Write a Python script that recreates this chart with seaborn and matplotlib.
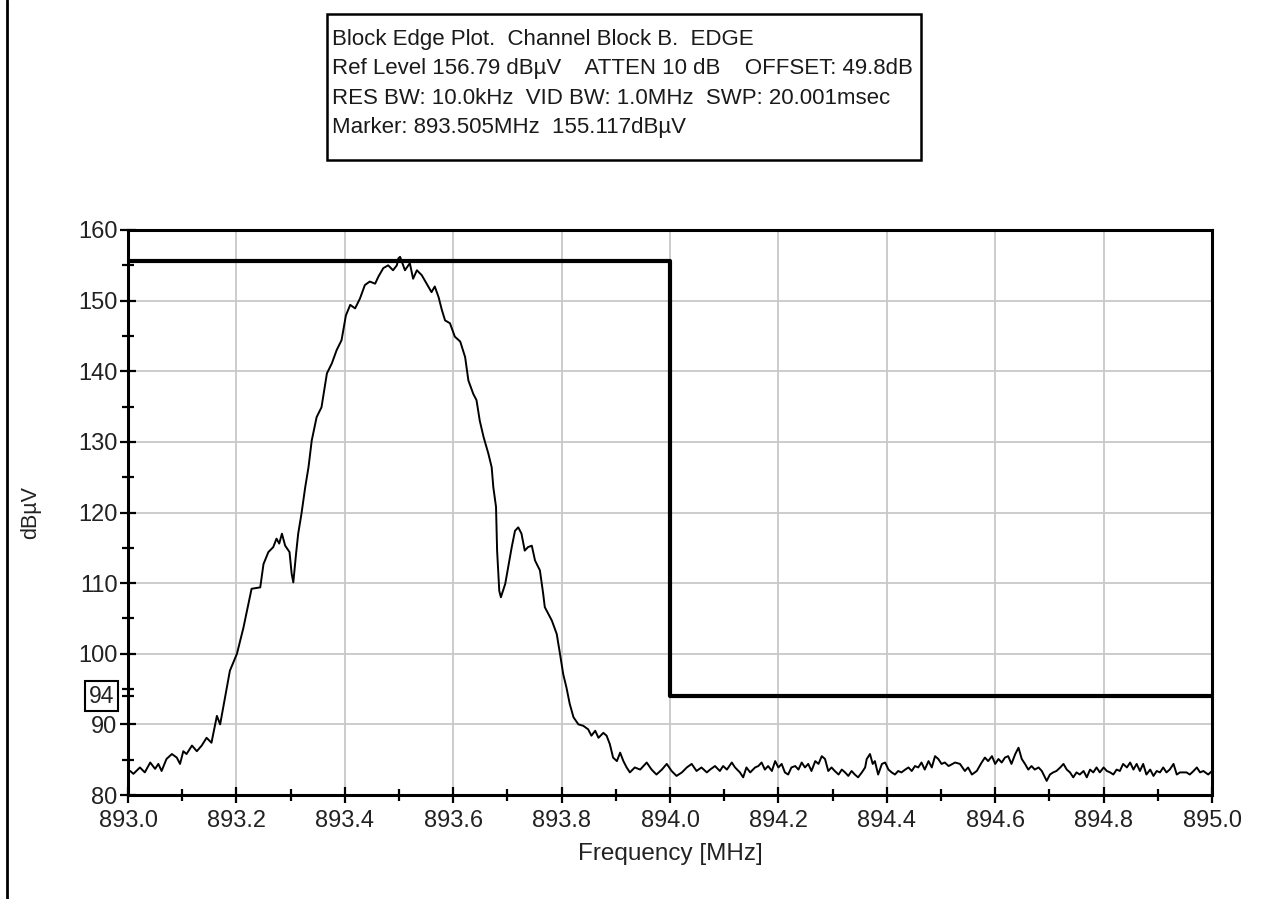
import matplotlib
matplotlib.use("Agg")
import matplotlib.pyplot as plt
import matplotlib.patches as mpatches
from matplotlib.ticker import FixedLocator, MultipleLocator
import numpy as np
import pandas as pd
import seaborn as sns

# ---- data ----
# left noise floor + lower skirt
freq_skirt = [893.004, 893.010, 893.022, 893.031, 893.041, 893.050, 893.056, 893.062,
              893.071, 893.081, 893.090, 893.096, 893.102, 893.108, 893.118, 893.127,
              893.136, 893.145, 893.154, 893.164, 893.170, 893.179, 893.188]
level_skirt = [83.4, 83.0, 83.9, 83.2, 84.6, 83.7, 84.4, 83.4,
               85.1, 85.8, 85.3, 84.4, 86.2, 85.8, 87.0, 86.2,
               87.0, 88.1, 87.4, 91.2, 90.0, 93.8, 97.6]

# main lobe (shoulders + carrier)
freq_lobe = [893.201, 893.213, 893.222, 893.228, 893.244, 893.250, 893.259, 893.268,
             893.274, 893.279, 893.284, 893.290, 893.298, 893.302, 893.305, 893.310,
             893.314, 893.320, 893.327, 893.333, 893.339, 893.348, 893.357, 893.367,
             893.376, 893.385, 893.394, 893.402, 893.410, 893.419, 893.428, 893.437,
             893.446, 893.456, 893.462, 893.471, 893.480, 893.489, 893.496, 893.499,
             893.502, 893.511, 893.520, 893.526, 893.533, 893.542, 893.551, 893.560,
             893.566, 893.573, 893.579, 893.585, 893.594, 893.603, 893.613, 893.622,
             893.628, 893.637, 893.643, 893.649, 893.656, 893.665, 893.671, 893.674,
             893.679, 893.681, 893.685, 893.688, 893.696, 893.702, 893.708, 893.714,
             893.720, 893.726, 893.732, 893.738, 893.745, 893.751, 893.760, 893.766,
             893.769, 893.782, 893.791, 893.797, 893.803, 893.809, 893.815, 893.822,
             893.831, 893.840, 893.849, 893.855, 893.862, 893.868, 893.877, 893.883,
             893.889, 893.895, 893.902, 893.908, 893.914, 893.920]
level_lobe = [100.0, 103.7, 107.0, 109.2, 109.4, 112.7, 114.4, 115.1,
              116.3, 115.6, 117.0, 115.3, 114.4, 111.3, 110.1, 114.1,
              117.0, 119.8, 123.6, 126.4, 130.2, 133.5, 134.9, 139.7,
              141.1, 143.0, 144.4, 147.9, 149.4, 148.9, 150.3, 152.2,
              152.7, 152.4, 153.4, 154.6, 155.0, 154.3, 155.0, 156.0,
              156.2, 154.3, 155.3, 153.1, 154.3, 153.6, 152.4, 151.2,
              152.0, 150.5, 148.7, 147.2, 146.8, 144.9, 144.2, 142.0,
              138.7, 136.8, 135.9, 133.0, 130.7, 128.3, 126.4, 123.6,
              120.8, 114.6, 108.9, 108.0, 109.9, 112.5, 115.1, 117.4,
              117.9, 117.0, 114.6, 115.1, 115.3, 113.2, 111.8, 108.5,
              106.6, 104.7, 102.8, 100.0, 97.1, 95.2, 92.9, 91.0,
              90.0, 89.8, 89.3, 88.4, 89.1, 88.1, 88.8, 88.4,
              87.2, 85.3, 84.8, 86.0, 84.8, 83.9]

# right noise floor
freq_floor = [893.926, 893.935, 893.945, 893.957, 893.966, 893.975, 893.985, 893.994,
              894.003, 894.012, 894.022, 894.031, 894.040, 894.049, 894.058, 894.068,
              894.074, 894.083, 894.092, 894.098, 894.105, 894.114, 894.120, 894.129,
              894.135, 894.141, 894.148, 894.157, 894.163, 894.169, 894.175, 894.181,
              894.188, 894.194, 894.200, 894.206, 894.212, 894.218, 894.224, 894.231,
              894.237, 894.243, 894.249, 894.255, 894.261, 894.268, 894.274, 894.280,
              894.286, 894.292, 894.298, 894.304, 894.311, 894.317, 894.323, 894.329,
              894.335, 894.341, 894.347, 894.354, 894.360, 894.363, 894.369, 894.374,
              894.378, 894.384, 894.391, 894.397, 894.403, 894.409, 894.415, 894.421,
              894.427, 894.434, 894.440, 894.446, 894.452, 894.458, 894.464, 894.470,
              894.477, 894.483, 894.489, 894.495, 894.501, 894.507, 894.514, 894.526,
              894.535, 894.544, 894.550, 894.557, 894.566, 894.575, 894.581, 894.587,
              894.594, 894.600, 894.606, 894.612, 894.618, 894.624, 894.630, 894.637,
              894.643, 894.649, 894.655, 894.661, 894.667, 894.673, 894.680, 894.686,
              894.695, 894.701, 894.707, 894.713, 894.720, 894.726, 894.732, 894.738,
              894.744, 894.750, 894.756, 894.763, 894.769, 894.775, 894.781, 894.787,
              894.793, 894.800, 894.806, 894.812, 894.818, 894.824, 894.830, 894.836,
              894.843, 894.849, 894.855, 894.861, 894.867, 894.873, 894.879, 894.886,
              894.892, 894.898, 894.904, 894.910, 894.916, 894.922, 894.929, 894.935,
              894.941, 894.947, 894.953, 894.959, 894.966, 894.972, 894.978, 894.984,
              894.993, 895.000]
level_floor = [83.2, 83.9, 83.6, 84.6, 83.6, 82.9, 83.6, 84.4,
               83.4, 82.7, 83.2, 83.9, 84.4, 83.4, 83.9, 83.2,
               83.6, 84.1, 83.4, 84.1, 83.6, 84.6, 83.9, 83.2,
               82.5, 83.9, 83.2, 83.9, 84.1, 84.6, 83.6, 84.1,
               83.4, 84.8, 83.9, 84.4, 83.2, 82.9, 83.9, 84.1,
               83.6, 84.6, 83.9, 84.4, 83.4, 84.8, 84.4, 85.5,
               85.1, 83.4, 83.9, 83.4, 82.9, 83.6, 83.2, 82.7,
               83.4, 82.9, 82.5, 83.2, 83.9, 85.1, 85.8, 84.4,
               84.8, 82.9, 84.4, 84.6, 83.6, 83.2, 82.9, 83.4,
               83.2, 83.6, 83.9, 83.4, 84.1, 83.9, 84.6, 83.6,
               84.8, 83.9, 85.5, 85.1, 84.4, 84.6, 84.1, 84.6,
               84.4, 83.4, 83.9, 82.9, 83.4, 84.6, 85.3, 84.8,
               85.5, 84.4, 85.1, 84.6, 85.3, 85.5, 84.4, 85.8,
               86.7, 85.1, 84.4, 83.6, 84.1, 83.6, 83.9, 83.4,
               82.0, 82.9, 83.2, 83.4, 83.9, 84.4, 83.6, 83.2,
               82.5, 83.2, 82.9, 83.4, 82.5, 83.6, 83.2, 83.9,
               83.2, 83.9, 83.4, 83.2, 82.9, 83.6, 83.4, 84.4,
               83.9, 84.6, 83.6, 84.4, 83.4, 84.4, 82.9, 83.6,
               82.7, 83.4, 83.2, 83.9, 83.2, 83.6, 84.4, 82.9,
               83.2, 83.2, 83.2, 82.9, 83.4, 83.9, 83.2, 83.4,
               82.9, 83.4]

# block edge limit mask
limit_freq = [893.0, 894.0, 894.0, 895.0]
limit_level = [155.6, 155.6, 94.0, 94.0]

header_lines = [
    "Block Edge Plot.  Channel Block B.  EDGE",
    "Ref Level 156.79 dB\u00b5V    ATTEN 10 dB    OFFSET: 49.8dB",
    "RES BW: 10.0kHz  VID BW: 1.0MHz  SWP: 20.001msec",
    "Marker: 893.505MHz  155.117dB\u00b5V",
]

trace = pd.DataFrame({
    "freq": freq_skirt + freq_lobe + freq_floor,
    "level": level_skirt + level_lobe + level_floor,
})
limit = pd.DataFrame({"freq": limit_freq, "level": limit_level})

sns.set_style("ticks")
plt.rcParams["font.family"] = ["Liberation Sans", "DejaVu Sans"]

fig = plt.figure(figsize=(12.68, 8.99), dpi=100)
ax = fig.add_axes([128 / 1268, 1 - 795 / 899, (1212 - 128) / 1268, (795 - 230) / 899])

sns.lineplot(data=trace, x="freq", y="level", ax=ax, color="black", linewidth=1.4,
             estimator=None, sort=False, zorder=3)
sns.lineplot(data=limit, x="freq", y="level", ax=ax, color="black", linewidth=3.0,
             estimator=None, sort=False, zorder=4)

ax.set_xlim(893.0, 895.0)
ax.set_ylim(80, 160)
ax.xaxis.set_major_locator(MultipleLocator(0.2))
ax.xaxis.set_minor_locator(MultipleLocator(0.1))
ax.yaxis.set_major_locator(MultipleLocator(10))
ax.yaxis.set_minor_locator(FixedLocator([85, 94, 95, 105, 115, 125, 135, 145, 155]))
ax.set_xticklabels([f"{v:.1f}" for v in ax.get_xticks()])

ax.grid(True, which="major", color="#c8c8c8", linewidth=1.3)
ax.tick_params(which="major", direction="inout", length=11, width=1.6, color="black",
               labelsize=17, labelcolor="#222222")
ax.tick_params(axis="x", which="major", pad=5)
ax.tick_params(axis="y", which="major", pad=2)
ax.tick_params(which="minor", direction="inout", length=8, width=1.6, color="black")
for s in ax.spines.values():
    s.set_visible(True)
    s.set_linewidth(2.2)
    s.set_color("black")

ax.set_xlabel("Frequency [MHz]", fontsize=17.5, color="#222222", labelpad=8)
ax.set_ylabel("dB\u00b5V", fontsize=15.5, color="#222222")
ax.yaxis.set_label_coords(-0.08, 0.5)

# boxed marker for the mask level
ax.annotate("94", xy=(0, 94), xycoords=("axes fraction", "data"),
            xytext=(-10, 0), textcoords="offset points", ha="right", va="center",
            fontsize=16.5, color="#222222", zorder=10, annotation_clip=False,
            bbox=dict(boxstyle="square,pad=0.15", fc="white", ec="black", lw=1.5))

# header box
fig.add_artist(mpatches.Rectangle((327 / 1268, 1 - 160 / 899), 594 / 1268, 146 / 899,
                                  transform=fig.transFigure, fill=False,
                                  edgecolor="black", linewidth=1.8))
for i, line in enumerate(header_lines):
    fig.text(332 / 1268, 1 - (39 + 29.5 * i) / 899, line, fontsize=16,
             color="#1a1a1a", va="center", ha="left")

# frame line at the left edge of the page
fig.add_artist(plt.Line2D([7 / 1268, 7 / 1268], [0, 1], transform=fig.transFigure,
                          color="black", linewidth=2))

fig.savefig("out.png", dpi=100)
